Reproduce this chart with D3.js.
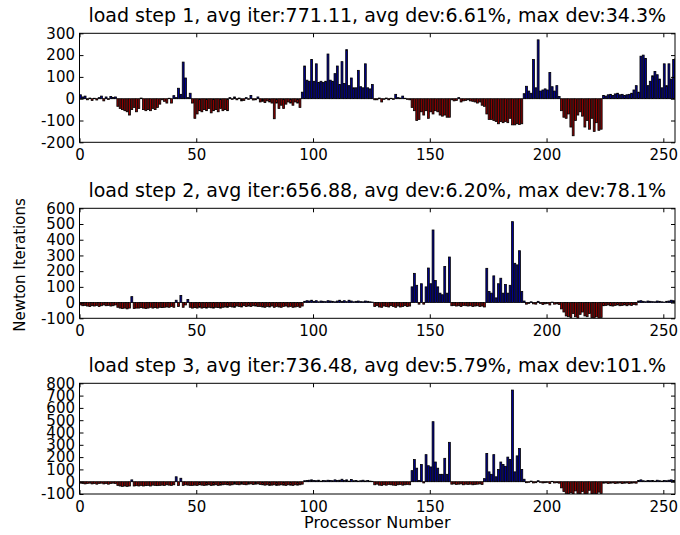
<!DOCTYPE html>
<html>
<head>
<meta charset="utf-8">
<script src="https://cdn.jsdelivr.net/npm/d3@7"></script>
<style>
body { margin: 0; background: #fff; }
text { font-family: "DejaVu Sans", sans-serif; fill: #000; }
</style>
</head>
<body>
<div id="chart"></div>
<script>
// deviation from the average number of Newton iterations, one value per processor (index = processor number)
var step1 = [18, 8, 12, -5, 3, -8, 2, -6, 5, 12, -10, 8, -4, 10, 6, 8,
    -35, -45, -50, -55, -60, -75, -50, -40, -60, -45, 3,
    -50, -55, -50, -55, -45, -50, -40, -25, -5, -12, -20, 2, -20, 14,
    5, 48, 20, 168, 95, 5, 25, -20, -90,
    -70, -55, -60, -50, -55, -45, -65, -55, -50, -60, -45, -55, -50, -55,
    5, -3, 8, -5, 3, -10, -8, 5, -3, 15, -6, -5, 8,
    -15, -12, -18, -10, -15, -20, -92,
    -20, -45, -30, -45, -25, -15, -20, -30, -15, -20, -40,
    30, 150, 85, 80, 180, 80, 160, 75, 80, 75, 80, 205, 85, 80, 115, 150, 65, 170, 70, 225,
    60, 95, 50, 50, 130, 55, 50, 160, 50, 45, 65, -5,
    -5, 3, -15, -3, 3, -5, 2, -3, 20, 5, 3, 12, 2, -3, -5,
    -40, -55, -100, -95, -60, -75, -55, -90, -60, -70, -55, -60, -75, -80, -75, -85, -85,
    -5, -10, -8, 5, -15, -10, -8, -5, -10, -12, -15, -20, -15,
    -30, -35, -70, -95, -95, -100, -105, -115, -105, -110, -105, -110, -90, -120, -120, -115, -118, -115,
    23, 57, 35, 25, 180, 50, 270, 35, 40, 45, 40, 120, 55, 35, 60, 10,
    -55, -85, -90, -70, -130, -170, -100, -75, -60, -80, -130, -100, -140, -90, -150, -110, -145, -140,
    15, 12, 18, 20, 15, 22, 25, 18, 20, 15, 18, 20, 25, 40, 60, 30,
    195, 200, 185, 60, 80, 105, 125, 110, 90, 50, 160, 60, 160, 90, 180, 185];

var step2 = [-15, -20, -18, -22, -25, -20, -22, -18, -25, -20, -15, -20, -18, -22, -20, -15,
    -30, -35, -38, -35, -40, -35, 38,
    -38, -35, -35, -32, -35, -38, -35, -30, -35, -32, -35, -30, -32, -30, -28, -30, -25, -30,
    15, -25, 45, -30, -15, 20, -30,
    -35, -32, -35, -30, -35, -32, -35, -30, -33, -35, -30, -32, -35, -30, -28, -30, -25, -28, -30,
    -22, -25, -28, -20, -25, -22, -25, -20, -22, -25,
    -25, -28, -30, -25, -28, -22, -30, -25, -28, -30, -25, -22, -28, -25, -30, -28, -25, -30, -22,
    8, 12, 10, 15, 8, 12, 5, 10, 8, 6, 12, 10, 8, 5, 10, 15, 8, 12, 6, 15, 10, 5, 8, 10, 6, 5, 10, 8, 5, 3,
    -25, -20, -28, -30, -22, -25, -28, -20, -25, -30, -22, -28, -25, -20, -25, -22,
    100, 186, 110, -10, 120, -10, 100, 220, 120, 462, 140, 100, 60, 50, 230, 60, 290,
    -20, -18, -22, -20, -25, -18, -20, -22, -20, -25, -22, -20, -25, -22, -28,
    218, 70, 60, 170, 30, 120, 155, 60, 115, 60, 110, 515, 250, 240, 330, 70, 10,
    -10, -5, 5, -8, -10, 8, -5, -12, -8, -5, -15, 3, -10, -8, -12,
    -40, -60, -85, -90, -95, -70, -90, -100, -75, -60, -85, -90, -70, -95, -100, -90, -100, -95,
    -20, -18, -15, -20, -22, -18, -15, -20, -18, -15, -20, -15, -18, -12, -15,
    10, 12, 8, 5, 10, 8, 6, 5, 10, 8, 5, 3, 8, 10, 15, 12, 8];

var step3 = [-12, -15, -18, -15, -12, -18, -15, -20, -15, -12, -18, -15, -20, -15, -12, -15,
    -30, -35, -38, -35, -38, -35, 15,
    -35, -32, -35, -30, -35, -32, -30, -35, -28, -30, -32, -30, -28, -30, -25, -28, -30, -25,
    40, -30, 28, -30, -25, -28, -30,
    -30, -28, -30, -25, -28, -30, -28, -25, -30, -28, -25, -30, -28, -25, -22, -25, -28, -25,
    -20, -22, -25, -20, -22, -25, -20, -18, -22, -20, -18,
    -22, -25, -28, -25, -30, -28, -25, -30, -28, -25, -28, -30, -25, -28, -30, -25, -28, -25, -20,
    8, 10, 12, 15, 10, 8, 12, 5, 10, 8, 12, 10, 8, 15, 10, 12, 20, 10, 15, 5, 18, 8, 10, 5, 8, 12, 6, 10, 5, 3,
    -25, -20, -28, -30, -25, -28, -22, -25, -28, -30, -25, -22, -28, -25, -22, -25,
    90, 180, 110, 10, 140, -10, 220, 130, 120, 488, 160, 110, 60, 60, 190, 60, 320,
    -20, -18, -22, -20, -18, -25, -20, -22, -20, -25, -22, -20, -18, -22, 25,
    230, 80, 60, 220, 40, 100, 160, 140, 125, 200, 180, 745, 80, 210, 270, 100, 20,
    -8, -5, 5, -10, -8, 8, -5, -10, -8, -5, -15, 3, -10, -8, -12,
    -50, -80, -95, -100, -90, -100, -75, -95, -100, -80, -100, -95, -70, -100, -95, -100, -85, -95,
    -12, -10, -15, -12, -10, -15, -12, -10, -15, -12, -10, -15, -12, -10, -12,
    10, 15, 8, 5, 10, 8, 10, 5, 12, 8, 5, 10, 8, 12, 15, 10, 12];

var titles = [
    "load step 1, avg iter:771.11, avg dev:6.61%, max dev:34.3%",
    "load step 2, avg iter:656.88, avg dev:6.20%, max dev:78.1%",
    "load step 3, avg iter:736.48, avg dev:5.79%, max dev:101.%"
];
var yTicks1 = [-200, -100, 0, 100, 200, 300];
var yTicks2 = [-100, 0, 100, 200, 300, 400, 500, 600];
var yTicks3 = [-100, 0, 100, 200, 300, 400, 500, 600, 700, 800];
var xTicks = [0, 50, 100, 150, 200, 250];

var W = 680, H = 535;
var left = 79.5, right = 675;

var svg = d3.select("#chart").append("svg")
    .attr("width", W).attr("height", H);
svg.append("rect").attr("width", W).attr("height", H).style("fill", "#fff");

var x = d3.scaleLinear().domain([0, 255]).range([left, right]);

function panel(values, ticks, title, top, bottom, id) {
    var y = d3.scaleLinear().domain([ticks[0], ticks[ticks.length - 1]]).range([bottom, top]);
    var g = svg.append("g");

    svg.append("clipPath").attr("id", "clip" + id)
        .append("rect")
        .attr("x", left).attr("y", top)
        .attr("width", right - left).attr("height", bottom - top);

    g.append("g").attr("clip-path", "url(#clip" + id + ")")
        .selectAll("rect").data(values).enter().append("rect")
        .attr("x", function (d, i) { return x(i); })
        .attr("width", x(0.8) - x(0))
        .attr("y", function (d) { return y(Math.max(0, d)); })
        .attr("height", function (d) { return Math.abs(y(d) - y(0)); })
        .style("fill", function (d) { return d >= 0 ? "#000090" : "#900000"; })
        .style("stroke", "#000")
        .style("stroke-width", 0.8);

    var fmt = function (d) { return String(d); };

    g.append("g").attr("transform", "translate(" + left + ",0)")
        .call(d3.axisLeft(y).tickValues(ticks).tickFormat(fmt).tickSizeInner(-4).tickSizeOuter(0).tickPadding(4.5));
    g.append("g").attr("transform", "translate(" + right + ",0)")
        .call(d3.axisRight(y).tickValues(ticks).tickFormat("").tickSizeInner(-4).tickSizeOuter(0));
    g.append("g").attr("transform", "translate(0," + bottom + ")")
        .call(d3.axisBottom(x).tickValues(xTicks).tickFormat(fmt).tickSizeInner(-4).tickSizeOuter(0).tickPadding(7));
    g.append("g").attr("transform", "translate(0," + top + ")")
        .call(d3.axisTop(x).tickValues(xTicks).tickFormat("").tickSizeInner(-4).tickSizeOuter(0));

    g.selectAll(".domain").remove();
    g.selectAll(".tick line").style("stroke", "#000").style("stroke-width", 1);
    g.selectAll(".tick text")
        .style("font-family", "'DejaVu Sans', sans-serif")
        .style("font-size", "15px")
        .style("fill", "#000");

    g.append("rect")
        .attr("x", left).attr("y", top)
        .attr("width", right - left).attr("height", bottom - top)
        .style("fill", "none").style("stroke", "#000").style("stroke-width", 1);

    g.append("text")
        .attr("x", (left + right) / 2).attr("y", top - 11)
        .attr("text-anchor", "middle")
        .style("font-size", "19px")
        .text(title);
}

panel(step1, yTicks1, titles[0], 33.3, 142.3, 1);
panel(step2, yTicks2, titles[1], 208.3, 318.3, 2);
panel(step3, yTicks3, titles[2], 383.3, 494, 3);

svg.append("text")
    .attr("transform", "translate(25,265) rotate(-90)")
    .attr("text-anchor", "middle")
    .style("font-size", "15px")
    .text("Newton Iterations");

svg.append("text")
    .attr("x", (left + right) / 2).attr("y", 528)
    .attr("text-anchor", "middle")
    .style("font-size", "16px")
    .text("Processor Number");
</script>
</body>
</html>
